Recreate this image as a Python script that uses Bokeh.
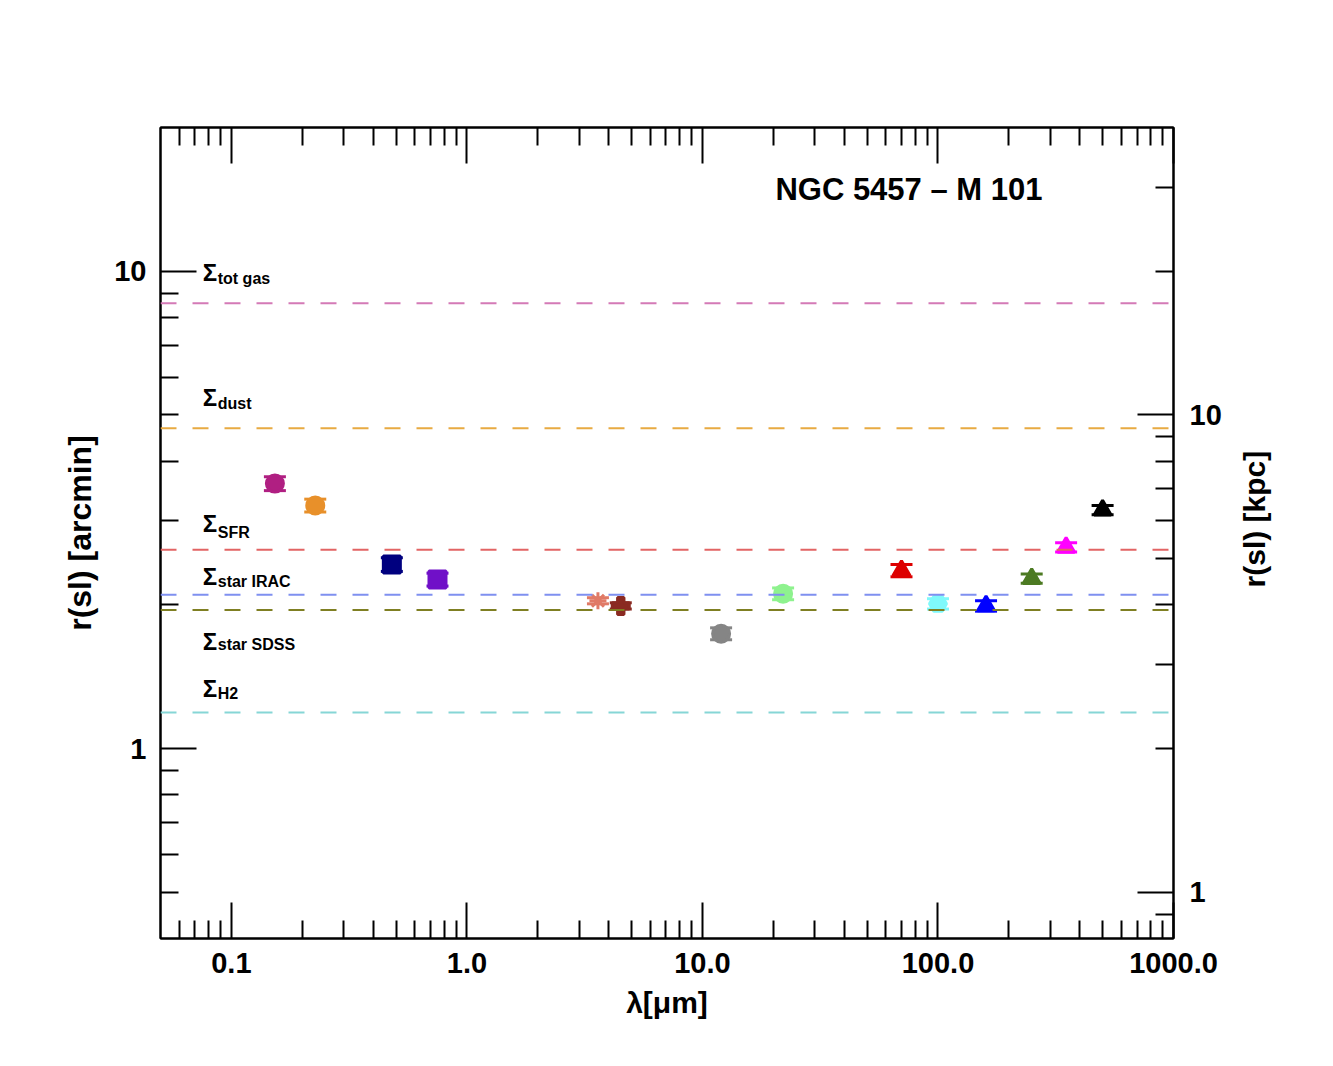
from bokeh.plotting import figure
from bokeh.models import (LogAxis, LogScale, Range1d, FixedTicker, CustomJSTickFormatter,
                          Label, Span, ColumnDataSource)
from bokeh.embed import file_html
from bokeh.resources import INLINE
import math

# ---------------- data ----------------
wavelength_um = [0.153, 0.227, 0.48, 0.75, 3.6, 4.5, 12.0, 22.0, 70.0, 100.0, 160.0, 250.0, 350.0, 500.0]
r_sl_arcmin = [3.59, 3.23, 2.43, 2.26, 2.04, 1.99, 1.74, 2.11, 2.36, 2.01, 1.99, 2.27, 2.64, 3.16]
r_sl_err = [0.12, 0.10, 0.08, 0.07, 0.03, 0.03, 0.05, 0.06, 0.07, 0.05, 0.05, 0.05, 0.06, 0.07]
band_colors = ["#b01f82", "#e8902a", "#00007f", "#7010c8", "#e07a66", "#8a2a22", "#858585",
               "#8ef28e", "#dd0000", "#7ff9fb", "#0000ff", "#4c7a22", "#ff00ff", "#000000"]
band_markers = ["circle", "circle", "square", "square", "asterisk", "plus", "circle",
                "circle", "triangle", "hex", "triangle", "triangle", "triangle", "triangle"]

sigma_names = ["tot gas", "dust", "SFR", "star IRAC", "star SDSS", "H2"]
sigma_r_arcmin = [8.57, 4.69, 2.61, 2.10, 1.95, 1.19]
sigma_colors = ["#d47ab6", "#e8aa42", "#e26464", "#7f90f0", "#7f7f22", "#86d6d6"]

x_major = [0.1, 1.0, 10.0, 100.0, 1000.0]
y_major = [1, 10]
kpc_major = [1, 10]
kpc_per_arcmin = 2.0

title_text = "NGC 5457 \u2013 M 101"
right_label_text = "r(sl) [kpc]"

# label layout (data coordinates)
sigma_sym_y = [9.95, 5.44, 2.96, 2.29, 1.677, 1.335]
sigma_sub_y = [9.67, 5.28, 2.84, 2.24, 1.65, 1.304]
right_title_anchor_kpc = 4.35   # where the bottom-to-top right title starts

FONT = "Liberation Sans"

src = ColumnDataSource(dict(
    wl=wavelength_um,
    r=r_sl_arcmin,
    up=[r + e for r, e in zip(r_sl_arcmin, r_sl_err)],
    lo=[r - e for r, e in zip(r_sl_arcmin, r_sl_err)],
    color=band_colors,
    marker=band_markers,
))

x_lo, x_hi = 0.05, 1000.0
y_lo, y_hi = 0.4, 20.0
k_lo, k_hi = y_lo * kpc_per_arcmin, y_hi * kpc_per_arcmin

p = figure(frame_width=1013, frame_height=811,
           x_axis_type="log", y_axis_type="log",
           x_range=Range1d(x_lo, x_hi), y_range=Range1d(y_lo, y_hi),
           output_backend="svg", toolbar_location=None,
           min_border_left=160, min_border_right=152,
           min_border_top=127, min_border_bottom=120,
           outline_line_color="black", outline_line_width=2,
           background_fill_color="white", border_fill_color="white")
p.xgrid.visible = False
p.ygrid.visible = False

p.extra_y_ranges = {"kpc": Range1d(k_lo, k_hi)}
p.extra_y_scales = {"kpc": LogScale()}


def minors(lo_dec, hi_dec):
    out = []
    for d in range(lo_dec, hi_dec):
        for k in range(2, 10):
            out.append(k * 10.0 ** d)
    return out


def style(ax):
    ax.axis_line_width = 2
    ax.axis_line_color = "black"
    ax.major_tick_in = 36
    ax.major_tick_out = 0
    ax.minor_tick_in = 18
    ax.minor_tick_out = 0
    ax.major_tick_line_width = 2
    ax.minor_tick_line_width = 2
    ax.major_tick_line_color = "black"
    ax.minor_tick_line_color = "black"
    ax.major_label_text_font = FONT
    ax.major_label_text_font_style = "bold"
    ax.major_label_text_font_size = "29px"
    ax.major_label_text_color = "black"
    ax.axis_label_text_font = FONT
    ax.axis_label_text_font_style = "bold"
    ax.axis_label_text_font_size = "30px"
    ax.axis_label_text_color = "black"


xticker = FixedTicker(ticks=x_major, minor_ticks=[v for v in minors(-2, 3) if x_lo < v < x_hi])
yticker = FixedTicker(ticks=y_major, minor_ticks=[v for v in minors(-1, 2) if y_lo < v < y_hi])
kticker = FixedTicker(ticks=kpc_major, minor_ticks=[v for v in minors(-1, 2) if k_lo < v < k_hi])

xb = p.xaxis[0]
xb.ticker = xticker
xb.formatter = CustomJSTickFormatter(code="return tick.toFixed(1);")
xb.axis_label = "\u03bb[\u03bcm]"
style(xb)
xb.major_label_standoff = 14
xb.axis_label_standoff = 10

yl = p.yaxis[0]
yl.ticker = yticker
yl.formatter = CustomJSTickFormatter(code="return String(tick);")
yl.axis_label = "r(sl) [arcmin]"
style(yl)
yl.axis_label_text_font_size = "32px"
yl.major_label_standoff = 14
yl.axis_label_standoff = 13

top = LogAxis(ticker=xticker, formatter=CustomJSTickFormatter(code="return '';"))
style(top)
top.major_label_text_font_size = "1px"
p.add_layout(top, "above")

yr = LogAxis(y_range_name="kpc", ticker=kticker,
             formatter=CustomJSTickFormatter(code="return String(tick);"))
style(yr)
yr.major_label_standoff = 16
p.add_layout(yr, "right")

# right-hand title drawn as the single (rotated) label of an invisible outer axis,
# so that it reads bottom-to-top like the original
yr_title = LogAxis(y_range_name="kpc",
                   ticker=FixedTicker(ticks=[right_title_anchor_kpc], minor_ticks=[]),
                   formatter=CustomJSTickFormatter(args=dict(t=right_label_text), code="return t;"))
yr_title.axis_line_color = None
yr_title.major_tick_line_color = None
yr_title.minor_tick_line_color = None
yr_title.major_tick_in = 0
yr_title.major_tick_out = 0
yr_title.minor_tick_in = 0
yr_title.minor_tick_out = 0
yr_title.major_label_standoff = 30
yr_title.major_label_orientation = math.pi / 2
yr_title.major_label_text_font = FONT
yr_title.major_label_text_font_style = "bold"
yr_title.major_label_text_font_size = "30px"
yr_title.major_label_text_color = "black"
p.add_layout(yr_title, "right")

# dashed reference lines
for rv, c in zip(sigma_r_arcmin, sigma_colors):
    p.add_layout(Span(location=rv, dimension="width", line_color=c, line_width=2,
                      line_dash="16 16", line_dash_offset=0))

# error bars
p.segment(x0="wl", y0="lo", x1="wl", y1="up", source=src, line_color="color", line_width=3)
p.scatter(x="wl", y="up", source=src, marker="dash", size=22, line_color="color", line_width=3)
p.scatter(x="wl", y="lo", source=src, marker="dash", size=22, line_color="color", line_width=3)
# symbols
p.scatter(x="wl", y="r", source=src, marker="marker", size=17,
          fill_color="color", line_color="color", line_width=3)

# sigma labels
for name, sy, suby in zip(sigma_names, sigma_sym_y, sigma_sub_y):
    p.add_layout(Label(x=0.0755, y=sy, text="\u03a3", text_font=FONT, text_font_style="bold",
                       text_font_size="24px", text_color="black", text_baseline="alphabetic"))
    p.add_layout(Label(x=0.0875, y=suby, text=name, text_font=FONT, text_font_style="bold",
                       text_font_size="16px", text_color="black", text_baseline="alphabetic"))

# title
p.add_layout(Label(x=20.4, y=14.85, text=title_text, text_font=FONT, text_font_style="bold",
                   text_font_size="31px", text_color="black", text_baseline="alphabetic"))

open("out.html", "w").write(file_html(p, INLINE))
